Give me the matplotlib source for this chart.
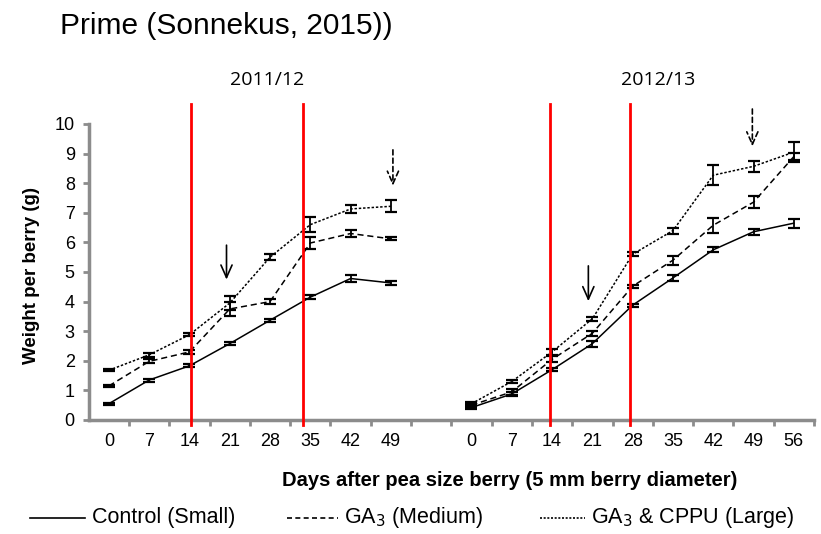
import matplotlib.pyplot as plt
from matplotlib.lines import Line2D

plt.rcParams['font.family'] = ['Liberation Sans', 'DejaVu Sans']

# Datos
dias_1112 = [0, 7, 14, 21, 28, 35, 42, 49]
dias_1213 = [0, 7, 14, 21, 28, 35, 42, 49, 56]

control_1112 = [0.55, 1.35, 1.83, 2.58, 3.37, 4.15, 4.78, 4.63]
ga3_1112 = [1.15, 1.98, 2.3, 3.75, 4.0, 5.98, 6.3, 6.12]
cppu_1112 = [1.68, 2.2, 2.88, 3.95, 5.5, 6.6, 7.13, 7.22]
err_control_1112 = [0.03, 0.05, 0.05, 0.05, 0.05, 0.07, 0.13, 0.07]
err_ga3_1112 = [0.03, 0.07, 0.07, 0.25, 0.08, 0.2, 0.12, 0.05]
err_cppu_1112 = [0.03, 0.07, 0.05, 0.25, 0.1, 0.25, 0.12, 0.2]

control_1213 = [0.42, 0.88, 1.7, 2.58, 3.88, 4.8, 5.75, 6.36, 6.65]
ga3_1213 = [0.5, 0.95, 2.05, 2.93, 4.52, 5.4, 6.58, 7.36, 8.9]
cppu_1213 = [0.55, 1.3, 2.3, 3.42, 5.6, 6.4, 8.27, 8.57, 9.05]
err_control_1213 = [0.05, 0.08, 0.05, 0.1, 0.05, 0.1, 0.08, 0.1, 0.15]
err_ga3_1213 = [0.05, 0.1, 0.1, 0.08, 0.05, 0.15, 0.25, 0.2, 0.12]
err_cppu_1213 = [0.05, 0.05, 0.1, 0.07, 0.07, 0.1, 0.33, 0.18, 0.35]

rojas = [2.03, 4.82, 10.94, 12.93]

W, H = 821, 534
fig = plt.figure(figsize=(W / 100, H / 100), dpi=100)

def fx(px):
    return px / W

def fy(py):
    return 1 - py / H

ax = fig.add_axes([fx(88.7), fy(420), fx(814) - fx(88.7), fy(124) - fy(420)])

x1 = list(range(len(dias_1112)))
x2 = [i + len(dias_1112) + 1 for i in range(len(dias_1213))]

gris = '#8c8c8c'
estilos = ['-', (0, (4, 2.5)), (0, (1.6, 1.2))]

series = [
    (x1, control_1112, err_control_1112, 0), (x1, ga3_1112, err_ga3_1112, 1), (x1, cppu_1112, err_cppu_1112, 2),
    (x2, control_1213, err_control_1213, 0), (x2, ga3_1213, err_ga3_1213, 1), (x2, cppu_1213, err_cppu_1213, 2),
]
for xs, ys, es, k in series:
    ax.plot(xs, ys, color='black', linestyle=estilos[k], linewidth=1.1, zorder=3)
    ax.errorbar(xs, ys, yerr=es, fmt='none', ecolor='black', elinewidth=1.3,
                capsize=4, capthick=1.6, zorder=4)

for xr in rojas:
    ax.plot([xr, xr], [-0.17, 10.68], color='red', linewidth=2, clip_on=False, zorder=5)

# Flechas
flecha = '->,head_length=0.9,head_width=0.4'
ax.annotate('', xy=(2.92, 4.65), xytext=(2.92, 6.0),
            arrowprops=dict(arrowstyle=flecha, color='black', lw=1.2))
ax.annotate('', xy=(11.9, 3.92), xytext=(11.9, 5.3),
            arrowprops=dict(arrowstyle=flecha, color='black', lw=1.2))
ax.annotate('', xy=(7.05, 7.82), xytext=(7.05, 9.22), annotation_clip=False,
            arrowprops=dict(arrowstyle=flecha, color='black', lw=1.2, linestyle=(0, (3, 2))))
ax.annotate('', xy=(15.97, 9.15), xytext=(15.97, 10.6), annotation_clip=False,
            arrowprops=dict(arrowstyle=flecha, color='black', lw=1.2, linestyle=(0, (3, 2))))

ax.set_xlim(-0.5, len(dias_1112) + len(dias_1213) + 0.5)
ax.set_ylim(0, 10)
ax.set_yticks(range(0, 11))
ax.set_xticks(x1 + x2)
ax.set_xticklabels([str(d) for d in dias_1112 + dias_1213])
ax.set_xticks([i + 0.5 for i in range(len(dias_1112) + len(dias_1213) + 1)], minor=True)

for s in ['top', 'right']:
    ax.spines[s].set_visible(False)
for s in ['left', 'bottom']:
    ax.spines[s].set_color(gris)
    ax.spines[s].set_linewidth(2.5)
ax.tick_params(axis='y', length=4, width=2, color=gris, labelsize=13, pad=6)
ax.tick_params(axis='x', which='major', length=0, labelsize=13, pad=9)
ax.tick_params(axis='x', which='minor', length=4, width=2, color=gris)

# Textos
fig.text(fx(60), fy(26), 'Prime (Sonnekus, 2015))', fontsize=21.5, ha='left', va='center')
fig.text(fx(267), fy(80), '2011/12', fontsize=14, ha='center', va='center', family='Open Sans')
fig.text(fx(658), fy(80), '2012/13', fontsize=14, ha='center', va='center', family='Open Sans')
fig.text(fx(510), fy(481), 'Days after pea size berry (5 mm berry diameter)', fontsize=14.5,
         fontweight='bold', ha='center', va='center')
fig.text(fx(32), fy(275), 'Weight per berry (g)', fontsize=13.5, fontweight='bold',
         rotation=90, ha='center', va='center')

# Leyenda
leyenda = [
    (30, 85, '-', 'Control (Small)', 92),
    (287, 338, (0, (3, 2)), 'GA$_3$ (Medium)', 344),
    (540, 585, (0, (1.2, 1)), 'GA$_3$ & CPPU (Large)', 591),
]
for x0, x1l, ls, txt, xt in leyenda:
    fig.add_artist(Line2D([fx(x0), fx(x1l)], [fy(518), fy(518)], color='black',
                          linestyle=ls, linewidth=1.2, transform=fig.transFigure))
    fig.text(fx(xt), fy(518), txt, fontsize=15.5, ha='left', va='center')

fig.savefig('out.png', dpi=100)
